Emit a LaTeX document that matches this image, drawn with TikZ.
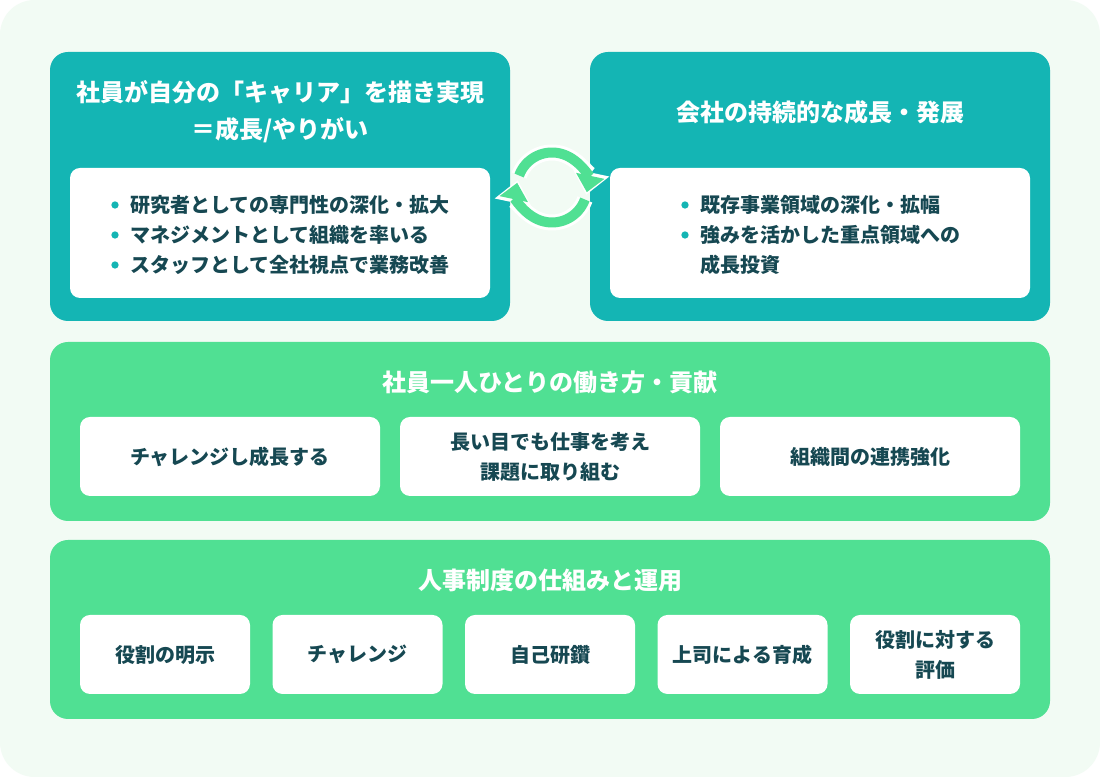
\documentclass[tikz,border=0pt]{standalone}
\usepackage{fontspec}
\setmainfont{Noto Sans CJK JP}
\usetikzlibrary{arrows.meta}
\definecolor{bgmint}{RGB}{242,251,244}
\definecolor{panelteal}{RGB}{20,181,180}
\definecolor{panelgreen}{RGB}{80,224,147}
\definecolor{inktext}{RGB}{22,72,82}

\begin{document}
\begin{tikzpicture}[x=0.75pt,y=0.75pt,
    panel/.style={rounded corners=13.5pt, inner sep=0pt},
    card/.style={fill=white, rounded corners=7.5pt, inner sep=0pt, text=inktext,
        align=center, font=\bfseries\fontsize{15}{22.5}\selectfont},
    heading/.style={text=white, align=center, inner sep=0pt,
        font=\bfseries\fontsize{18}{27.75}\selectfont},
    item/.style={text=inktext, anchor=west, inner sep=0pt,
        font=\bfseries\fontsize{15}{22.5}\selectfont},
    dot/.style={circle, fill=panelteal, inner sep=0pt, minimum size=5.5pt}]
                % page and background
                \fill[white] (0,0) rectangle (1100,777);
                \fill[bgmint, rounded corners=26pt] (0,0) rectangle (1100,777);

                % top panels
                \node[panel, fill=panelteal, minimum width=345pt, minimum height=201.75pt] (career) at (280,590.5) {};
                \node[panel, fill=panelteal, minimum width=345pt, minimum height=201.75pt] (company) at (820,590.5) {};
                \node[heading] (careerhead) at (280,665.5) {社員が自分の「キャリア」を描き実現\\＝成長/やりがい};
                \node[heading] (companyhead) at (820,665) {会社の持続的な成長・発展};
                \node[card, minimum width=315pt, minimum height=97.5pt] (careercard) at (280,544) {};
                \node[card, minimum width=315pt, minimum height=97.5pt] (companycard) at (820,544) {};

                \foreach \t [count=\i] in {研究者としての専門性の深化・拡大, マネジメントとして組織を率いる, スタッフとして全社視点で業務改善} {
                    \node[dot] (cdot\i) at (115,602-30*\i) {};
                    \node[item] (citem\i) at (130,602-30*\i) {\t};
                }
                \foreach \i in {1,2}
                    \node[dot] (gdot\i) at (685,602-30*\i) {};
                \node[item] (gitem1) at (700,572) {既存事業領域の深化・拡幅};
                \node[item] (gitem2) at (700,542) {強みを活かした重点領域への};
                \node[item] (gitem3) at (700,512) {成長投資};

                % cycle between the two top panels
                \coordinate (cyc) at (552,589.5);
                \foreach \a/\b in {160/-12, -20/-192} {
                    \draw[white, line width=12pt, -{Triangle[length=17pt, width=27pt]}] (cyc) ++(\a:35) arc[start angle=\a, end angle=\b, radius=35];
                    \draw[panelgreen, line width=7.5pt, shorten >=2pt, -{Triangle[length=12.5pt, width=21pt]}] (cyc) ++(\a:35) arc[start angle=\a, end angle=\b, radius=35];
                }

                % middle panel
                \node[panel, fill=panelgreen, minimum width=750pt, minimum height=134.25pt] (work) at (550,345.5) {};
                \node[heading] (workhead) at (550,395) {社員一人ひとりの働き方・貢献};
                \foreach \t [count=\i] in {チャレンジし成長する, {長い目でも仕事を考え\\課題に取り組む}, 組織間の連携強化}
                    \node[card, minimum width=225pt, minimum height=59.25pt] (work\i) at (-90+320*\i,320.5) {\t};

                % bottom panel
                \node[panel, fill=panelgreen, minimum width=750pt, minimum height=134.25pt] (hr) at (550,147.5) {};
                \node[heading] (hrhead) at (550,197) {人事制度の仕組みと運用};
                \foreach \t [count=\i] in {役割の明示, チャレンジ, 自己研鑽, 上司による育成, {役割に対する\\評価}}
                    \node[card, minimum width=127.5pt, minimum height=59.25pt] (hr\i) at (-27.5+192.5*\i,122.5) {\t};
            \end{tikzpicture}
\end{document}
